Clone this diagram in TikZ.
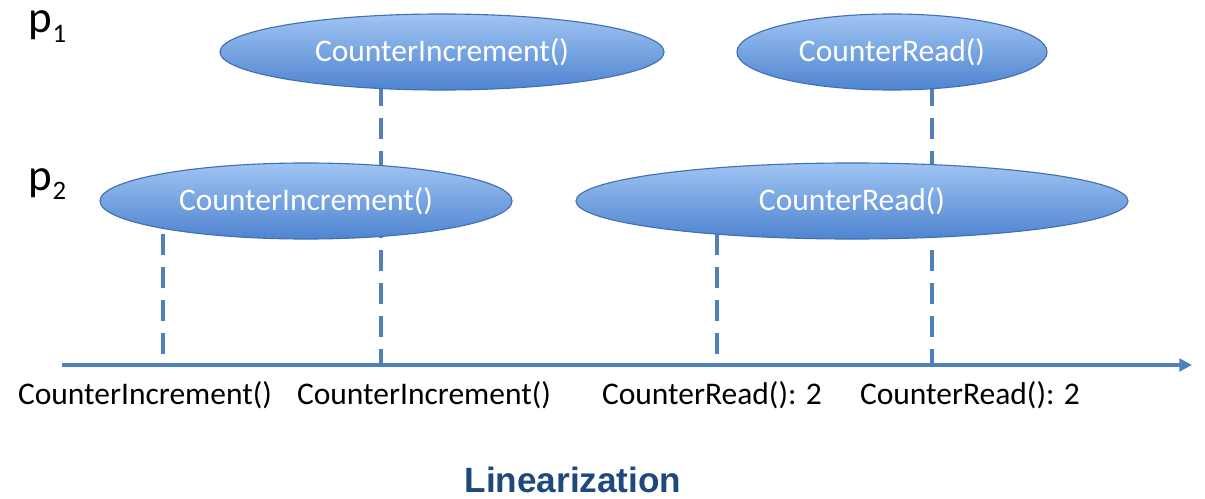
\documentclass[tikz,border=0pt]{standalone}
\usepackage{fontspec}
\setmainfont{Carlito}
\newfontfamily\titlefont{Liberation Sans}
\usetikzlibrary{shapes.geometric,arrows.meta,backgrounds}
\definecolor{opBlue}{RGB}{79,129,189}
\definecolor{opTop}{RGB}{160,196,242}
\definecolor{opBottom}{RGB}{78,132,208}
\definecolor{opEdge}{RGB}{66,112,180}
\definecolor{titleBlue}{RGB}{31,73,125}

\begin{document}
\begin{tikzpicture}[x=0.025cm, y=-0.025cm,
    op/.style={ellipse, draw=opEdge, line width=0.8pt, top color=opTop, bottom color=opBottom,
      text=white, font=\fontsize{22.4}{26}\selectfont, inner sep=0pt, minimum height=1.9cm},
    tick/.style={opBlue, line width=3pt, dash pattern=on 15pt off 8.5pt},
    lbl/.style={anchor=base, font=\fontsize{22.4}{26}\selectfont},
    proc/.style={anchor=base west, font=\fontsize{32}{36}\selectfont}]
  \useasboundingbox (0,0) rectangle (1205,499);

  % processes
  \node[proc] (p1) at (24,33) {p\raisebox{-7pt}{\fontsize{19}{22}\selectfont 1}};
  \node[proc] (p2) at (24,190) {p\raisebox{-7pt}{\fontsize{19}{22}\selectfont 2}};

  % operations
  \node[op, minimum width=11.1cm] (inc1) at (442,52) {CounterIncrement()};
  \node[op, minimum width=7.75cm] (read1) at (892,52) {CounterRead()};
  \node[op, minimum width=10.3cm] (inc2) at (306,201) {CounterIncrement()};
  \node[op, minimum width=13.8cm] (read2) at (852,201) {CounterRead()};

  % time axis
  \coordinate (tstart) at (62,365);
  \coordinate (tend) at (1192,365);
  \coordinate (t1) at (163,365);
  \coordinate (t2) at (381,365);
  \coordinate (t3) at (717,365);
  \coordinate (t4) at (932,365);
  \draw[opBlue, line width=2.8pt, -{Triangle[length=9pt,width=9pt]}] (tstart) -- (tend);

  \begin{scope}[on background layer]
    \draw[tick] (t1 |- inc2) -- (t1);
    \draw[tick] (t2 |- inc1) -- (t2);
    \draw[tick] (t3 |- read2) -- (t3);
    \draw[tick] (t4 |- read1) -- (t4);
  \end{scope}

  % linearization order
  \node[lbl] (l1) at (145,404) {CounterIncrement()};
  \node[lbl] (l2) at (424,404) {CounterIncrement()};
  \node[lbl] (l3) at (712,404) {CounterRead(): 2};
  \node[lbl] (l4) at (970,404) {CounterRead(): 2};

  \node[anchor=base, text=titleBlue, font=\titlefont\bfseries\fontsize{25}{30}\selectfont] (title) at (573,492) {Linearization};
\end{tikzpicture}
\end{document}
